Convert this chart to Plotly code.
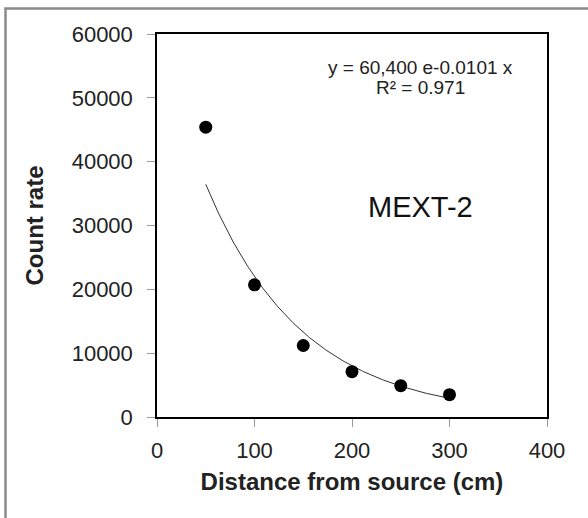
import numpy as np
import plotly.graph_objects as go

# Data
distance_cm = [50, 100, 150, 200, 250, 300]
count_rate = [45400, 20700, 11200, 7100, 4900, 3500]

# Trendline parameters (as stated on chart)
TREND_A = 60400
TREND_B = -0.0101
R2 = 0.971

x_ticks = [0, 100, 200, 300, 400]
y_ticks = [0, 10000, 20000, 30000, 40000, 50000, 60000]

W, H = 588, 518
L, R, T, B = 157, 41, 34, 101
pw, ph = W - L - R, H - T - B

xt = np.linspace(min(distance_cm), max(distance_cm), 200)
yt = TREND_A * np.exp(TREND_B * xt)

fig = go.Figure()
fig.add_trace(go.Scatter(x=xt, y=yt, mode="lines",
                         line=dict(color="#333333", width=1), showlegend=False,
                         hoverinfo="skip"))
fig.add_trace(go.Scatter(x=distance_cm, y=count_rate, mode="markers",
                         marker=dict(color="black", size=13), showlegend=False))

font_family = "Liberation Sans, Arial, sans-serif"

fig.update_xaxes(range=[0, 400], tickvals=x_ticks, ticktext=[str(v) for v in x_ticks],
                 showgrid=False, zeroline=False, showline=True, linecolor="black",
                 linewidth=1.5, mirror=True, ticks="outside", ticklen=8, tickcolor="#999999",
                 tickfont=dict(size=22, color="#222222", family=font_family),
                 ticklabelstandoff=5,
                 title=dict(text="<b>Distance from source (cm)</b>", standoff=11,
                            font=dict(size=24, color="#222222", family=font_family)))
fig.update_yaxes(range=[0, 60000], tickvals=y_ticks, ticktext=[str(v) for v in y_ticks],
                 showgrid=False, zeroline=False, showline=True, linecolor="black",
                 linewidth=1.5, mirror=True, ticks="outside", ticklen=8, tickcolor="#999999",
                 tickfont=dict(size=22, color="#222222", family=font_family),
                 ticklabelstandoff=10,
                 title=dict(text="<b>Count rate</b>", standoff=21,
                            font=dict(size=24, color="#222222", family=font_family)))

cx = (420 - L) / pw
fig.add_annotation(x=cx, y=(T + ph - 67) / ph, xref="paper", yref="paper",
                   xanchor="center", yanchor="middle",
                   text=f"y = {TREND_A:,} e{TREND_B} x", showarrow=False,
                   font=dict(size=19, color="#222222", family=font_family))
fig.add_annotation(x=cx, y=(T + ph - 87) / ph, xref="paper", yref="paper",
                   xanchor="center", yanchor="middle",
                   text=f"R² = {R2}", showarrow=False,
                   font=dict(size=19, color="#222222", family=font_family))
fig.add_annotation(x=cx, y=(T + ph - 207) / ph, xref="paper", yref="paper",
                   xanchor="center", yanchor="middle",
                   text="MEXT-2", showarrow=False,
                   font=dict(size=29, color="#111111", family=font_family))

# outer frame (left and top edges visible)
x0 = (5.5 - L) / pw
y0 = (T + ph - 8.5) / ph
yb = (T + ph - 520) / ph
xr = (590 - L) / pw
fig.add_shape(type="path", xref="paper", yref="paper",
              path=f"M {x0} {yb} L {x0} {y0} L {xr} {y0}",
              line=dict(color="#8a8a8a", width=2.5))

fig.update_layout(width=W, height=H, margin=dict(l=L, r=R, t=T, b=B),
                  paper_bgcolor="white", plot_bgcolor="white",
                  font=dict(family=font_family))

fig.write_html("out.html")
